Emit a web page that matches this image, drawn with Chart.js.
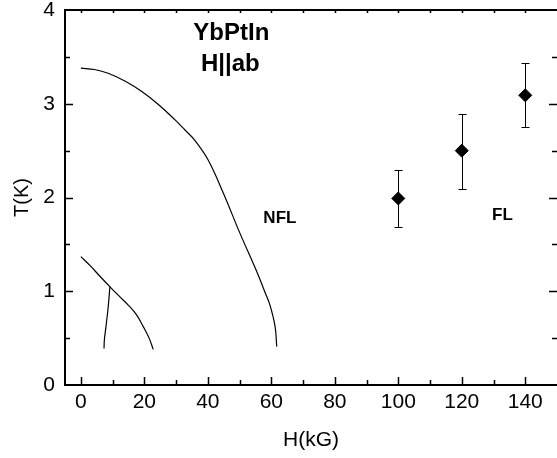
<!DOCTYPE html>
<html lang="en">
<head>
    <meta charset="UTF-8">
    <title>YbPtIn H||ab</title>
    <script src="https://cdn.jsdelivr.net/npm/chart.js"></script>
    <style>
        html, body { margin: 0; padding: 0; background: #fff; }
        #wrap { width: 557px; height: 458px; }
    </style>
</head>
<body>
    <div id="wrap">
        <canvas id="phaseChart" width="557" height="458"></canvas>
    </div>
<script>
    // phase boundary lines (H in kG, T in K)
    const upperH = [0, 4.3, 8.6, 14, 19.2, 24.5, 29.6, 32.8, 35.9, 40.1, 44.9, 50.1, 55.4, 58, 59.6, 61.2, 61.7];
    const upperT = [3.38, 3.365, 3.325, 3.24, 3.13, 2.99, 2.83, 2.72, 2.61, 2.4, 2.045, 1.62, 1.21, 0.99, 0.85, 0.62, 0.41];

    const lowerH = [0, 3, 6, 9.1, 12, 15, 17.5, 19.7, 21.5, 22.8];
    const lowerT = [1.37, 1.27, 1.16, 1.05, 0.95, 0.85, 0.75, 0.62, 0.5, 0.38];

    const innerH = [9.15, 8.6, 7.9, 7.4, 7.3];
    const innerT = [1.05, 0.83, 0.62, 0.48, 0.39];

    // FL crossover points with error bars
    const flH = [100, 120, 140];
    const flT = [1.99, 2.5, 3.09];
    const flLow = [1.69, 2.09, 2.75];
    const flHigh = [2.29, 2.89, 3.44];

    const xTicks = [0, 20, 40, 60, 80, 100, 120, 140];
    const yTicks = [0, 1, 2, 3, 4];

    const FONT = "'Liberation Sans', Arial, sans-serif";

    function toPoints(xs, ys) {
        return xs.map(function (x, i) { return { x: x, y: ys[i] }; });
    }

    function curve(xs, ys) {
        return {
            data: toPoints(xs, ys),
            showLine: true,
            borderColor: '#000',
            borderWidth: 1.2,
            pointRadius: 0,
            tension: 0.4,
            fill: false
        };
    }

    // frame, inward ticks on all four sides
    const framePlugin = {
        id: 'frame',
        afterDatasetsDraw(chart) {
            const ctx = chart.ctx;
            const a = chart.chartArea;
            const xs = chart.scales.x, ys = chart.scales.y;
            ctx.save();
            ctx.strokeStyle = '#000';
            ctx.lineWidth = 1.5;
            ctx.beginPath();
            for (let v = 0; v <= 140; v += 10) {
                const px = Math.round(xs.getPixelForValue(v)) + 0.5;
                const len = v % 20 === 0 ? 8 : 5;
                ctx.moveTo(px, a.bottom);
                ctx.lineTo(px, a.bottom - len);
                ctx.moveTo(px, a.top);
                ctx.lineTo(px, a.top + 3);
            }
            for (let v = 0.5; v < 4; v += 0.5) {
                const py = Math.round(ys.getPixelForValue(v)) + 0.5;
                const len = v % 1 === 0 ? 8 : 5;
                ctx.moveTo(a.left, py);
                ctx.lineTo(a.left + len, py);
                ctx.moveTo(a.right, py);
                ctx.lineTo(a.right - len, py);
            }
            ctx.stroke();
            ctx.lineWidth = 2;
            ctx.strokeRect(a.left, a.top, a.right - a.left + 1, a.bottom - a.top);
            ctx.restore();
        }
    };

    // vertical error bars with caps, drawn under the markers
    const errorPlugin = {
        id: 'errorBars',
        beforeDatasetsDraw(chart) {
            const ctx = chart.ctx;
            const xs = chart.scales.x, ys = chart.scales.y;
            ctx.save();
            ctx.strokeStyle = '#000';
            ctx.lineWidth = 1;
            ctx.beginPath();
            for (let i = 0; i < flH.length; i++) {
                const px = Math.round(xs.getPixelForValue(flH[i])) + 0.5;
                const top = Math.round(ys.getPixelForValue(flHigh[i])) + 0.5;
                const bot = Math.round(ys.getPixelForValue(flLow[i])) + 0.5;
                ctx.moveTo(px, top); ctx.lineTo(px, bot);
                ctx.moveTo(px - 4, top); ctx.lineTo(px + 4, top);
                ctx.moveTo(px - 4, bot); ctx.lineTo(px + 4, bot);
            }
            ctx.stroke();
            ctx.restore();
        }
    };

    // text labels placed in data coordinates
    const labelPlugin = {
        id: 'labels',
        afterDatasetsDraw(chart) {
            const ctx = chart.ctx;
            const xs = chart.scales.x, ys = chart.scales.y;
            const items = [
                ['YbPtIn', 47.4, 3.755, 24],
                ['H||ab', 47.1, 3.424, 24],
                ['NFL', 62.7, 1.78, 17],
                ['FL', 132.8, 1.813, 17]
            ];
            ctx.save();
            ctx.fillStyle = '#000';
            ctx.textAlign = 'center';
            ctx.textBaseline = 'middle';
            items.forEach(function (it) {
                ctx.font = 'bold ' + it[3] + 'px ' + FONT;
                ctx.fillText(it[0], xs.getPixelForValue(it[1]), ys.getPixelForValue(it[2]));
            });
            ctx.restore();
        }
    };

    function noPad(s) {
        s.paddingLeft = 0; s.paddingRight = 0;
        s.paddingTop = 0; s.paddingBottom = 0;
    }

    const config = {
        type: 'scatter',
        data: {
            datasets: [
                curve(upperH, upperT),
                curve(lowerH, lowerT),
                curve(innerH, innerT),
                {
                    data: toPoints(flH, flT),
                    pointStyle: 'rectRot',
                    pointRadius: 6.5,
                    backgroundColor: '#000',
                    borderColor: '#000',
                    borderWidth: 1,
                    showLine: false
                }
            ]
        },
        options: {
            responsive: false,
            animation: false,
            devicePixelRatio: 1,
            layout: { autoPadding: false, padding: { top: 10, right: 0, left: 0, bottom: 0 } },
            plugins: {
                legend: { display: false },
                tooltip: { enabled: false }
            },
            scales: {
                x: {
                    type: 'linear',
                    min: -5,
                    max: 150,
                    afterBuildTicks: function (s) { s.ticks = xTicks.map(function (v) { return { value: v }; }); },
                    afterFit: function (s) { s.height = 73; noPad(s); },
                    grid: { display: false, drawTicks: false },
                    border: { display: false },
                    ticks: {
                        color: '#000',
                        padding: 5,
                        maxRotation: 0,
                        font: { family: FONT, size: 21 }
                    },
                    title: {
                        display: true,
                        text: 'H(kG)',
                        color: '#000',
                        padding: { top: 0, bottom: 5 },
                        font: { family: FONT, size: 21 }
                    }
                },
                y: {
                    type: 'linear',
                    min: 0,
                    max: 4,
                    afterBuildTicks: function (s) { s.ticks = yTicks.map(function (v) { return { value: v }; }); },
                    afterFit: function (s) { s.width = 65; noPad(s); },
                    grid: { display: false, drawTicks: false },
                    border: { display: false },
                    ticks: {
                        color: '#000',
                        padding: 10,
                        font: { family: FONT, size: 21 }
                    },
                    title: {
                        display: true,
                        text: 'T(K)',
                        color: '#000',
                        padding: { top: 10, bottom: 0 },
                        font: { family: FONT, size: 20 }
                    }
                }
            }
        },
        plugins: [errorPlugin, framePlugin, labelPlugin]
    };

    new Chart(document.getElementById('phaseChart'), config);
</script>
</body>
</html>
